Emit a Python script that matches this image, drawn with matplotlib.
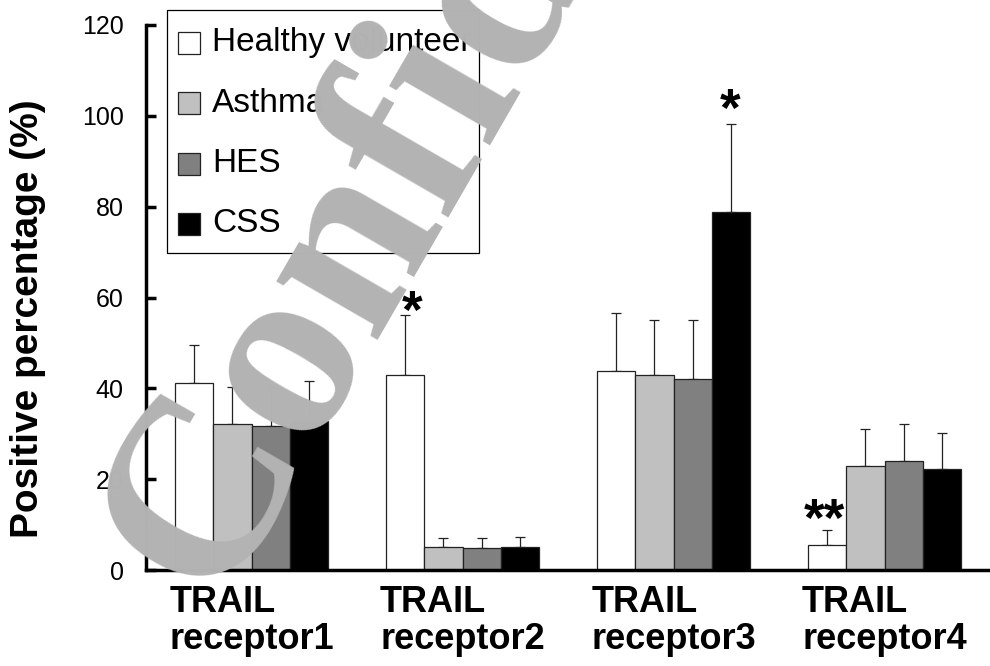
import matplotlib
matplotlib.use("Agg")
import matplotlib.pyplot as plt
from matplotlib.patches import Rectangle
import numpy as np

plt.rcParams['font.family'] = ['Liberation Sans', 'DejaVu Sans']

categories = ["TRAIL\nreceptor1", "TRAIL\nreceptor2", "TRAIL\nreceptor3", "TRAIL\nreceptor4"]
groups = ["Healthy volunteer", "Asthma", "HES", "CSS"]
healthy = [41.1, 43.0, 43.9, 5.6]
asthma = [32.1, 5.1, 43.0, 23.0]
hes = [31.6, 4.8, 42.0, 24.1]
css = [32.9, 5.1, 78.9, 22.2]
healthy_err = [8.4, 13.2, 12.6, 3.3]
asthma_err = [8.3, 1.9, 12.1, 8.0]
hes_err = [8.7, 2.2, 13.1, 8.0]
css_err = [8.8, 2.2, 19.4, 8.0]
yticks = [0, 20, 40, 60, 80, 100, 120]
stars = ["*", "*", "**"]
star_x = [0.76, 2.266, 2.715]
star_y = [56.3, 100.8, 10.5]

W, H = 990, 666
fig = plt.figure(figsize=(W / 100, H / 100), dpi=100)
ax = fig.add_axes([146 / W, 1 - 570 / H, (990 - 146) / W, (570 - 25) / H])

series = [healthy, asthma, hes, css]
errs = [healthy_err, asthma_err, hes_err, css_err]
colors = ["#ffffff", "#c0c0c0", "#808080", "#000000"]
x = np.arange(len(categories))
bw = 0.182
for i, (vals, er, c) in enumerate(zip(series, errs, colors)):
    pos = x + (i - 1.5) * bw
    ax.bar(pos, vals, width=bw, color=c, edgecolor="#222222", linewidth=0.9, zorder=2)
    ax.errorbar(pos, vals, yerr=[np.zeros(len(vals)), er], fmt="none", ecolor="#222222",
                elinewidth=0.9, capsize=3.5, capthick=0.9, zorder=1)

for s, sx, sy in zip(stars, star_x, star_y):
    ax.text(sx, sy, s, ha="center", va="center", fontsize=38, fontweight="bold", zorder=3)

ax.set_xlim(-0.5, 3.5)
ax.set_ylim(0, 120)
ax.set_yticks(yticks)
ax.set_yticklabels([str(t) for t in yticks], fontsize=18)
ax.set_xticks(x)
ax.set_xticklabels(categories, fontsize=26, fontweight="bold", multialignment="left",
                   linespacing=1.05)
ax.tick_params(axis="y", direction="in", length=7, width=2.5, pad=16)
ax.tick_params(axis="x", length=0, pad=11)
for s in ["top", "right"]:
    ax.spines[s].set_visible(False)
ax.spines["left"].set_linewidth(2.5)
ax.spines["bottom"].set_linewidth(2.5)

fig.text(28 / W, 1 - 319 / H, "Positive percentage (%)", rotation=90, ha="center",
         va="center", fontsize=28, fontweight="bold")

# legend
fx = lambda px: px / W
fy = lambda py: 1 - py / H
frame = Rectangle((fx(167), fy(253)), fx(479) - fx(167), fy(10) - fy(253),
                  transform=fig.transFigure, facecolor="white", edgecolor="black",
                  linewidth=0.9, zorder=5)
fig.add_artist(frame)
rows = [43, 103, 164, 224]
for g, c, ry in zip(groups, colors, rows):
    sq = Rectangle((fx(178), fy(ry + 11)), 22 / W, 22 / H, transform=fig.transFigure,
                   facecolor=c, edgecolor="#222222", linewidth=0.9, zorder=6)
    fig.add_artist(sq)
    t = fig.text(fx(212), fy(ry), g, fontsize=24, va="center", ha="left", zorder=6)
    t.set_clip_path(frame)

# watermark
fig.text(fx(213), fy(603), "Confidential", fontsize=183, family="Liberation Serif",
         fontweight="bold", color="#b3b3b3", rotation=60, rotation_mode="anchor",
         ha="left", va="baseline", zorder=10)

fig.savefig("out.png", dpi=100)
